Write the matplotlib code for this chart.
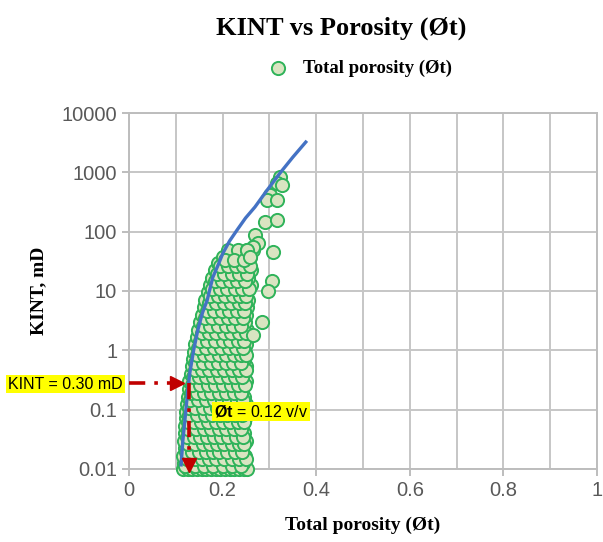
import numpy as np
import matplotlib.pyplot as plt
from matplotlib.ticker import FixedLocator, FixedFormatter, MultipleLocator

plt.rcParams['mathtext.fontset'] = 'custom'
plt.rcParams['mathtext.rm'] = 'Liberation Sans'
plt.rcParams['mathtext.bf'] = 'Liberation Sans:bold'

# cloud of core samples, one row of porosity values per KINT level
kint_rows = [0.010, 0.0126, 0.0166, 0.0224, 0.030, 0.040, 0.054, 0.071, 0.093, 0.126,
             0.166, 0.224, 0.30, 0.40, 0.54, 0.71, 0.95, 1.26, 1.7, 2.24,
             3.0, 4.0, 5.4, 7.1, 9.5, 12.6, 16.6, 22.4, 29.5, 38.0, 50.0]
phi_rows = [
	[0.115, 0.125, 0.135, 0.145, 0.155, 0.165, 0.175, 0.185, 0.195, 0.205, 0.215, 0.225, 0.235, 0.245, 0.252],
	[0.118, 0.132, 0.148, 0.163, 0.178, 0.193, 0.210, 0.228, 0.243],
	[0.116, 0.128, 0.142, 0.157, 0.172, 0.186, 0.200, 0.218, 0.235, 0.248],
	[0.119, 0.134, 0.150, 0.165, 0.181, 0.196, 0.212, 0.226, 0.242],
	[0.117, 0.130, 0.144, 0.160, 0.174, 0.190, 0.205, 0.220, 0.236, 0.250],
	[0.120, 0.136, 0.152, 0.168, 0.184, 0.200, 0.216, 0.232, 0.246],
	[0.119, 0.132, 0.146, 0.162, 0.177, 0.193, 0.208, 0.224, 0.240],
	[0.121, 0.138, 0.155, 0.170, 0.187, 0.202, 0.218, 0.234, 0.248],
	[0.122, 0.134, 0.149, 0.164, 0.180, 0.196, 0.212, 0.228, 0.243],
	[0.124, 0.140, 0.157, 0.173, 0.190, 0.206, 0.222, 0.238, 0.250],
	[0.126, 0.138, 0.152, 0.168, 0.184, 0.200, 0.216, 0.232, 0.246],
	[0.128, 0.143, 0.160, 0.176, 0.193, 0.209, 0.225, 0.241],
	[0.129, 0.142, 0.156, 0.171, 0.187, 0.203, 0.219, 0.235, 0.249],
	[0.132, 0.147, 0.163, 0.180, 0.196, 0.212, 0.228, 0.244],
	[0.134, 0.146, 0.160, 0.175, 0.190, 0.206, 0.222, 0.238, 0.250],
	[0.137, 0.151, 0.167, 0.183, 0.199, 0.215, 0.231, 0.246],
	[0.139, 0.153, 0.168, 0.184, 0.200, 0.216, 0.232, 0.248],
	[0.142, 0.157, 0.173, 0.189, 0.205, 0.221, 0.237, 0.250],
	[0.145, 0.160, 0.176, 0.192, 0.208, 0.224, 0.240],
	[0.148, 0.163, 0.179, 0.195, 0.211, 0.227, 0.243, 0.252],
	[0.152, 0.167, 0.183, 0.199, 0.215, 0.231, 0.247],
	[0.156, 0.171, 0.187, 0.203, 0.219, 0.235, 0.250],
	[0.160, 0.175, 0.190, 0.206, 0.222, 0.238, 0.252],
	[0.163, 0.178, 0.194, 0.210, 0.226, 0.242, 0.255],
	[0.168, 0.183, 0.198, 0.214, 0.230, 0.246],
	[0.172, 0.187, 0.203, 0.219, 0.235, 0.250, 0.260],
	[0.177, 0.192, 0.208, 0.224, 0.240, 0.255],
	[0.183, 0.198, 0.214, 0.230, 0.246, 0.260],
	[0.190, 0.206, 0.222, 0.238, 0.254],
	[0.200, 0.216, 0.235, 0.259],
	[0.212, 0.232, 0.252, 0.265],
]

# second, staggered set of samples filling the same cloud
kint_rows_b = [0.0112, 0.0145, 0.0193, 0.026, 0.035, 0.047, 0.062, 0.082, 0.108, 0.145,
               0.193, 0.26, 0.35, 0.47, 0.62, 0.82, 1.1, 1.46, 1.95, 2.6,
               3.5, 4.6, 6.2, 8.2, 11.0, 14.5, 19.3, 26.0, 33.0]
phi_rows_b = [
	[0.120, 0.140, 0.160, 0.180, 0.200, 0.220, 0.240],
	[0.124, 0.140, 0.155, 0.170, 0.186, 0.202, 0.219, 0.236, 0.250],
	[0.122, 0.135, 0.150, 0.164, 0.179, 0.193, 0.209, 0.227, 0.242],
	[0.125, 0.142, 0.157, 0.173, 0.188, 0.204, 0.219, 0.234, 0.246],
	[0.123, 0.138, 0.152, 0.167, 0.182, 0.197, 0.212, 0.228, 0.243],
	[0.127, 0.144, 0.160, 0.176, 0.192, 0.208, 0.224, 0.239],
	[0.125, 0.139, 0.154, 0.169, 0.185, 0.200, 0.216, 0.232, 0.246],
	[0.129, 0.146, 0.162, 0.178, 0.195, 0.210, 0.226, 0.241],
	[0.128, 0.142, 0.157, 0.172, 0.188, 0.204, 0.220, 0.235, 0.249],
	[0.131, 0.148, 0.165, 0.181, 0.198, 0.214, 0.230, 0.244],
	[0.132, 0.145, 0.160, 0.176, 0.192, 0.208, 0.224, 0.239],
	[0.135, 0.151, 0.168, 0.184, 0.201, 0.217, 0.233, 0.247],
	[0.137, 0.149, 0.164, 0.179, 0.195, 0.211, 0.227, 0.242],
	[0.140, 0.155, 0.171, 0.188, 0.204, 0.220, 0.236, 0.249],
	[0.142, 0.158, 0.175, 0.191, 0.207, 0.223, 0.239],
	[0.145, 0.160, 0.176, 0.192, 0.208, 0.224, 0.240, 0.251],
	[0.148, 0.165, 0.181, 0.197, 0.213, 0.229, 0.244],
	[0.152, 0.167, 0.183, 0.200, 0.216, 0.232, 0.246],
	[0.155, 0.170, 0.186, 0.202, 0.218, 0.234, 0.249],
	[0.158, 0.174, 0.190, 0.207, 0.223, 0.239],
	[0.162, 0.178, 0.194, 0.211, 0.227, 0.243],
	[0.166, 0.182, 0.198, 0.214, 0.230, 0.245],
	[0.170, 0.186, 0.202, 0.218, 0.234, 0.248],
	[0.174, 0.190, 0.206, 0.222, 0.238, 0.251],
	[0.178, 0.194, 0.210, 0.226, 0.242, 0.256],
	[0.183, 0.199, 0.215, 0.231, 0.247],
	[0.188, 0.204, 0.220, 0.236, 0.252],
	[0.195, 0.212, 0.228, 0.244, 0.258],
	[0.205, 0.224, 0.245],
]

# scattered high-permeability samples
phi_high = [0.323, 0.316, 0.327, 0.301, 0.295, 0.316, 0.291, 0.316, 0.269, 0.276,
            0.265, 0.308, 0.252, 0.259, 0.306, 0.297, 0.284, 0.265]
kint_high = [830, 660, 610, 420, 340, 340, 145, 157, 87, 64,
             55, 45, 49, 37, 15, 10, 3, 1.8]

# trend line
phi_trend = [0.111, 0.115, 0.120, 0.125, 0.130, 0.138, 0.147, 0.157, 0.167, 0.179, 0.190,
             0.201, 0.215, 0.231, 0.249, 0.269, 0.295, 0.323, 0.350, 0.380]
kint_trend = [0.011, 0.03, 0.075, 0.19, 0.42, 1.0, 2.2, 4.3, 7.0, 17, 27,
              44, 70, 107, 170, 260, 500, 980, 1800, 3400]

ytick_vals = [0.01, 0.1, 1, 10, 100, 1000, 10000]
ytick_labels = ['0.01', '0.1', '1', '10', '100', '1000', '10000']

phi_all = []
kint_all = []
for k, row in zip(kint_rows + kint_rows_b, phi_rows + phi_rows_b):
	phi_all += row
	kint_all += [k] * len(row)
phi_all += phi_high
kint_all += kint_high

fig = plt.figure(figsize=(6.03, 5.42), dpi=100)
ax = fig.add_axes([0.214, 0.1347, 0.776, 0.6568])

ax.set_yscale('log')
ax.set_xlim(0, 1)
ax.set_ylim(0.01, 10000)

ax.scatter(phi_all, kint_all, s=90, facecolor='#d9e4c1', edgecolor='#2fb35a',
           linewidth=1.4, zorder=3, clip_on=False, label='Total porosity (Øt)')
ax.plot(phi_trend, kint_trend, color='#4472c4', lw=2.4, zorder=4, solid_capstyle='butt')

# cut-off arrows
arrow_phi = 0.128
arrow_k = 0.28
red = '#c00000'
ax.plot([0.0, 0.098], [arrow_k, arrow_k], color=red, lw=2.6, dashes=(4.5, 2.5, 1, 2.5), zorder=5)
ax.plot([0.103], [arrow_k], marker='>', ms=10, color=red, zorder=5, clip_on=False)
ax.plot([arrow_phi, arrow_phi], [arrow_k, 0.0135], color=red, lw=2.6, dashes=(4.5, 2.5, 1, 2.5), zorder=5)
ax.plot([arrow_phi], [0.0118], marker='v', ms=10, color=red, zorder=5, clip_on=False)

ax.text(0.181, 0.093, r'$\mathbf{Øt}$ = 0.12 v/v', fontsize=11.5, family='Liberation Sans',
        va='center', ha='left', zorder=6,
        bbox=dict(boxstyle='square,pad=0.12', fc='#ffff00', ec='none'))
fig.text(0.109, 0.2915, 'KINT = 0.30 mD', fontsize=11.5, family='Liberation Sans',
         va='center', ha='center', zorder=6,
         bbox=dict(boxstyle='square,pad=0.12', fc='#ffff00', ec='none'))

# axes styling, Excel look
ax.xaxis.set_major_locator(MultipleLocator(0.2))
ax.xaxis.set_minor_locator(MultipleLocator(0.1))
ax.xaxis.set_major_formatter(plt.FuncFormatter(lambda v, p: '%g' % v))
ax.yaxis.set_major_locator(FixedLocator(ytick_vals))
ax.yaxis.set_major_formatter(FixedFormatter(ytick_labels))
ax.yaxis.set_minor_locator(FixedLocator([]))
ax.grid(True, which='both', color='#c6c6c6', lw=1.4, zorder=0)
ax.set_axisbelow(True)
for s in ax.spines.values():
	s.set_color('#bdbdbd')
	s.set_linewidth(1.4)
ax.tick_params(axis='both', which='major', labelsize=14.5, labelcolor='#595959',
               color='#bdbdbd', width=1.4, length=5)
ax.tick_params(axis='x', which='minor', length=0)
for lab in ax.get_xticklabels() + ax.get_yticklabels():
	lab.set_family('Liberation Sans')

ax.set_xlabel('Total porosity (Øt)', family='Liberation Serif', weight='bold', fontsize=14, labelpad=12)
ax.set_ylabel('KINT, mD', family='Liberation Serif', weight='bold', fontsize=14, labelpad=10)

fig.text(0.565, 0.948, 'KINT vs Porosity (Øt)', family='Liberation Serif', weight='bold',
         fontsize=19, ha='center', va='center')
fig.legend(loc='center', bbox_to_anchor=(0.59, 0.874), frameon=False, handletextpad=0.3,
           prop=dict(family='Liberation Serif', weight='bold', size=13.5))

fig.savefig('out.png', dpi=100)
